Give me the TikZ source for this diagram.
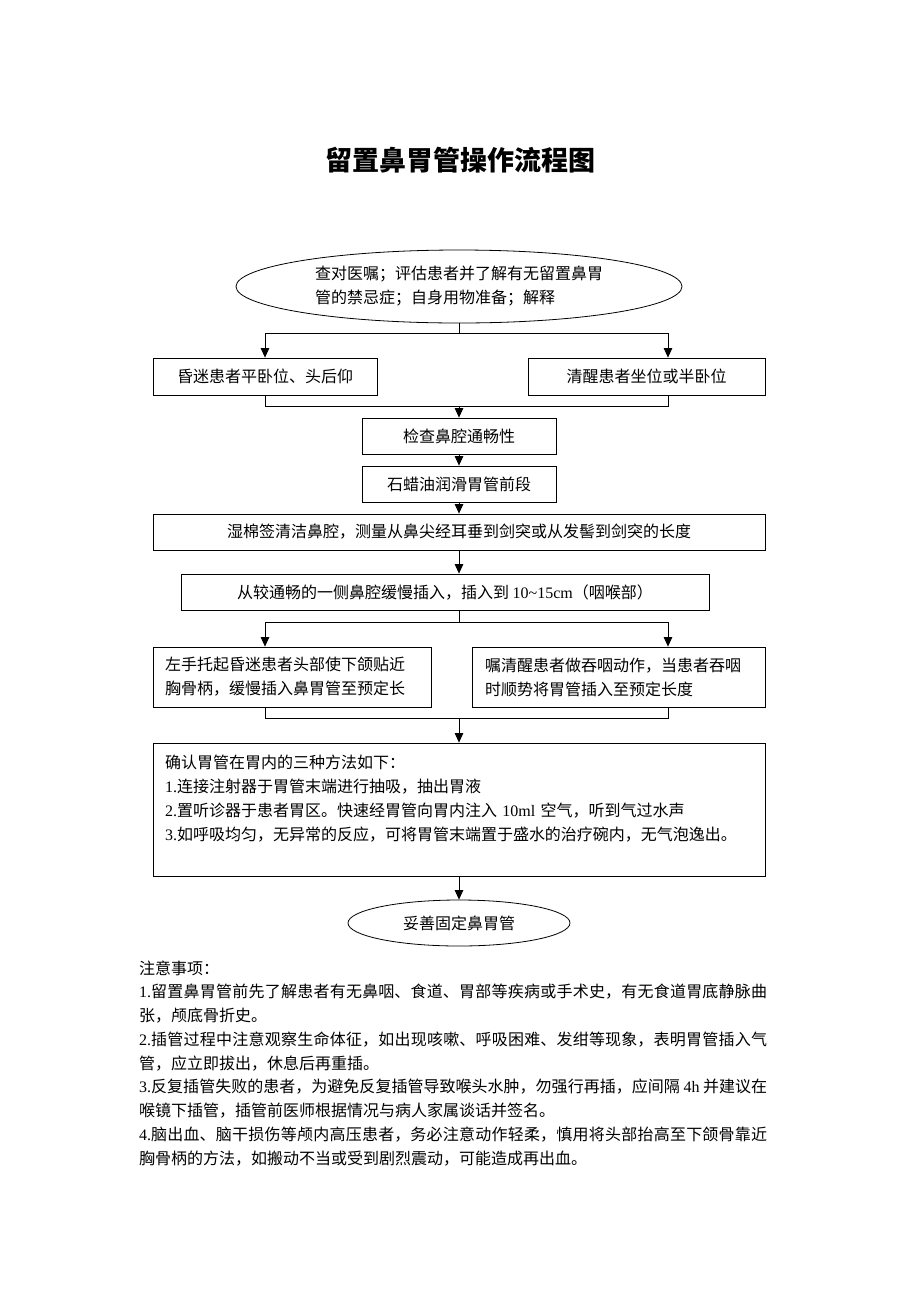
\documentclass[tikz,border=0pt]{standalone}
\usepackage{fontspec}
\setmainfont{Noto Sans CJK SC}
\newfontfamily\latinfont{Liberation Serif}
\usetikzlibrary{arrows.meta,shapes.geometric}
\XeTeXlinebreaklocale "zh"
\XeTeXlinebreakskip=0pt plus 1pt
\newcommand\lat[1]{{\latinfont #1}}
\begin{document}
\begin{tikzpicture}[x=1pt,y=-1pt,
  every node/.style={font=\fontsize{16}{24}\selectfont},
  box/.style={draw,line width=0.8pt,rectangle,inner sep=0pt},
  oval/.style={draw,line width=0.8pt,ellipse,inner sep=0pt},
  conn/.style={line width=0.8pt},
  arr/.style={line width=0.8pt,-{Triangle[length=9.5pt,width=8.5pt]}}]
\useasboundingbox (0,0) rectangle (920,1302);
\fill[white] (0,0) rectangle (920,1302);

\node (title) at (460,160) {\fontsize{27}{30}\selectfont\bfseries 留置鼻胃管操作流程图};

\node[oval,minimum width=446pt,minimum height=73pt,align=left] (e1) at (459,286.5)
  {查对医嘱；评估患者并了解有无留置鼻胃\hspace{8pt}\\管的禁忌症；自身用物准备；解释};
\node[box,minimum width=224pt,minimum height=37pt] (b1l) at (265,376.5) {昏迷患者平卧位、头后仰};
\node[box,minimum width=237pt,minimum height=37pt] (b1r) at (646.5,376.5) {清醒患者坐位或半卧位};
\node[box,minimum width=194pt,minimum height=36pt] (c1) at (459,436) {检查鼻腔通畅性};
\node[box,minimum width=194pt,minimum height=36pt] (c2) at (459,484) {石蜡油润滑胃管前段};
\node[box,minimum width=612pt,minimum height=36pt] (c3) at (459,532)
  {湿棉签清洁鼻腔，测量从鼻尖经耳垂到剑突或从发髻到剑突的长度};
\node[box,minimum width=528pt,minimum height=36pt] (c4) at (445,592)
  {从较通畅的一侧鼻腔缓慢插入，插入到 \lat{10\textasciitilde15cm}（咽喉部）};
\node[box,minimum width=278pt,minimum height=60pt,text width=254pt,align=left] (d1) at (292,677)
  {左手托起昏迷患者头部使下颌贴近\\胸骨柄，缓慢插入鼻胃管至预定长};
\node[box,minimum width=293pt,minimum height=60pt,text width=267pt,align=left] (d2) at (618.5,677)
  {嘱清醒患者做吞咽动作，当患者吞咽\\时顺势将胃管插入至预定长度};
\node[box,minimum width=612pt,minimum height=133pt,text width=588pt,align=left] (f1) at (459,809.5)
  {确认胃管在胃内的三种方法如下：\\
   \lat{1.}连接注射器于胃管末端进行抽吸，抽出胃液\\
   \lat{2.}置听诊器于患者胃区。快速经胃管向胃内注入 \lat{10ml} 空气，听到气过水声\\
   \lat{3.}如呼吸均匀，无异常的反应，可将胃管末端置于盛水的治疗碗内，无气泡逸出。\\
   \mbox{}};
\node[oval,minimum width=222pt,minimum height=46pt] (e2) at (459,923) {妥善固定鼻胃管};

\node[anchor=base west,inner sep=0pt] (notes) at (139,974) {\parbox[t]{628pt}{\fontsize{16}{23.75}\selectfont\parindent=0pt
注意事项：\par
\lat{1.}留置鼻胃管前先了解患者有无鼻咽、食道、胃部等疾病或手术史，有无食道胃底静脉曲\linebreak 张，颅底骨折史。\par
\lat{2.}插管过程中注意观察生命体征，如出现咳嗽、呼吸困难、发绀等现象，表明胃管插入气\linebreak 管，应立即拔出，休息后再重插。\par
\lat{3.}反复插管失败的患者，为避免反复插管导致喉头水肿，勿强行再插，应间隔 \lat{4h} 并建议在\linebreak 喉镜下插管，插管前医师根据情况与病人家属谈话并签名。\par
\lat{4.}脑出血、脑干损伤等颅内高压患者，务必注意动作轻柔，慎用将头部抬高至下颌骨靠近\linebreak 胸骨柄的方法，如搬动不当或受到剧烈震动，可能造成再出血。}};

\coordinate (xl) at (265,0);
\coordinate (xr) at (668,0);
\coordinate (j1) at (459,333);
\coordinate (j2) at (459,406);
\coordinate (j3) at (459,622);
\coordinate (j4) at (459,718);

\draw[conn] (e1.south) -- (j1);
\draw[arr] (j1) -| (xl |- b1l.north);
\draw[arr] (j1) -| (xr |- b1r.north);
\draw[conn] (b1l.south) |- (j2);
\draw[conn] (xr |- b1r.south) |- (j2);
\draw[arr] (j2) -- (c1.north);
\draw[arr] (c1) -- (c2);
\draw[arr] (c2) -- (c3);
\draw[arr] (c3.south) -- (c3.south |- c4.north);
\draw[conn] (c3.south |- c4.south) -- (j3);
\draw[arr] (j3) -| (xl |- d1.north);
\draw[arr] (j3) -| (xr |- d2.north);
\draw[conn] (xl |- d1.south) |- (j4);
\draw[conn] (xr |- d2.south) |- (j4);
\draw[arr] (j4) -- (f1.north);
\draw[arr] (f1) -- (e2);
\end{tikzpicture}
\end{document}
